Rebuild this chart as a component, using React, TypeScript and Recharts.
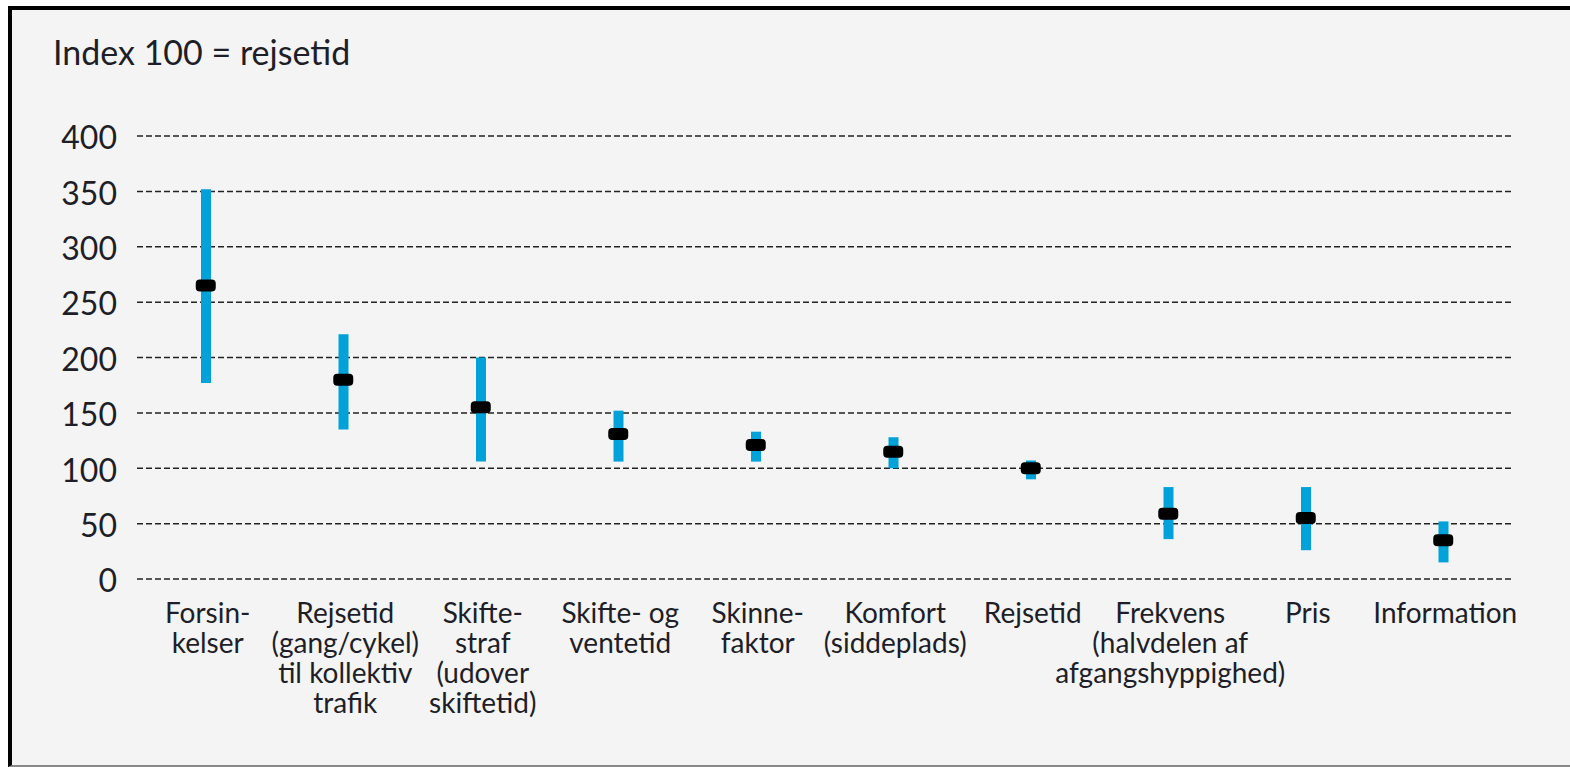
import { ComposedChart, Bar, Line, XAxis, YAxis, CartesianGrid } from 'recharts';

// Værdiansættelse af rejsetidskomponenter, index 100 = rejsetid
const categories = [
  'Forsin-\nkelser',
  'Rejsetid\n(gang/cykel)\ntil kollektiv\ntrafik',
  'Skifte-\nstraf\n(udover\nskiftetid)',
  'Skifte- og\nventetid',
  'Skinne-\nfaktor',
  'Komfort\n(siddeplads)',
  'Rejsetid',
  'Frekvens\n(halvdelen af\nafgangshyppighed)',
  'Pris',
  'Information',
];
const lowValues = [177, 135, 106, 106, 106, 100, 90, 36, 26, 15];
const highValues = [352, 221, 200, 152, 133, 128, 107, 83, 83, 52];
const midValues = [265, 180, 155, 131, 121, 115, 100, 59, 55, 35];
const yTicks = [0, 50, 100, 150, 200, 250, 300, 350, 400];

const data = categories.map((name, i) => ({
  name,
  low: lowValues[i],
  high: highValues[i],
  mid: midValues[i],
}));

const FONT = 'Lato, "Noto Sans", sans-serif';
const TEXT = '#1e1e28';

const CategoryTick = (props: any) => {
  const { x, y, payload } = props;
  const lines = String(payload.value).split('\n');
  return (
    <text x={x + 2} y={y + 44} textAnchor="middle" fill={TEXT} fontSize={28} fontFamily={FONT}>
      {lines.map((l, i) => (
        <tspan key={i} x={x + 2} dy={i === 0 ? 0 : 30}>
          {l}
        </tspan>
      ))}
    </text>
  );
};

const MedianDot = (props: any) => {
  const { cx, cy } = props;
  if (cx == null || cy == null) return null;
  return <rect x={cx - 10} y={cy - 6} width={20} height={12} rx={4} fill="#000" />;
};

export default function App() {
  return (
    <div style={{ position: 'absolute', left: 0, top: 0, width: 1570, height: 767, background: '#fff', overflow: 'hidden' }}>
      <div
        style={{
          position: 'absolute',
          left: 8,
          top: 6,
          width: 1562,
          height: 761,
          boxSizing: 'border-box',
          background: '#f4f4f4',
          borderTop: '4px solid #000',
          borderLeft: '4px solid #000',
          borderBottom: '2px solid #888',
        }}
      />
      <svg width={1570} height={767} style={{ position: 'absolute', left: 0, top: 0 }}>
        <text x={53} y={65} fontSize={34} fontFamily={FONT} fill={TEXT}>
          Index 100 = rejsetid
        </text>
      </svg>
      <div style={{ position: 'absolute', left: 0, top: 0 }}>
        <ComposedChart
          width={1570}
          height={767}
          data={data}
          margin={{ top: 136, right: 58, bottom: 128, left: 0 }}
        >
          <CartesianGrid vertical={false} stroke="#222" strokeWidth={1.5} strokeDasharray="6 3" />
          <XAxis
            dataKey="name"
            axisLine={false}
            tickLine={false}
            tickSize={0}
            tickMargin={0}
            height={60}
            interval={0}
            tick={<CategoryTick />}
          />
          <YAxis
            domain={[0, 400]}
            ticks={yTicks}
            axisLine={false}
            tickLine={false}
            tickSize={0}
            tickMargin={20}
            width={137}
            tick={{ fill: TEXT, fontSize: 32, fontFamily: FONT, dy: 2 }}
          />
          <Bar dataKey={(d: any) => [d.low, d.high]} fill="#00a2d9" barSize={10} isAnimationActive={false} />
          <Line
            dataKey="mid"
            stroke="none"
            strokeWidth={0}
            dot={<MedianDot />}
            activeDot={false}
            isAnimationActive={false}
          />
        </ComposedChart>
      </div>
    </div>
  );
}
